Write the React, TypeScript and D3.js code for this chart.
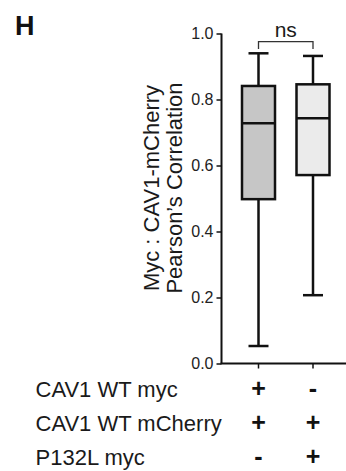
import React, { useEffect, useRef } from 'react';
import * as d3 from 'd3';

// box plot summary
const groups = ['WT', 'P132L'];
const whiskerMin = [0.053, 0.207];
const q1 = [0.498, 0.571];
const median = [0.728, 0.743];
const q3 = [0.841, 0.846];
const whiskerMax = [0.94, 0.932];
const boxFills = ['#c6c6c6', '#ebebeb'];

const yTicks = [0, 0.2, 0.4, 0.6, 0.8, 1.0];

// condition table under the plot
const rowLabels = ['CAV1 WT myc', 'CAV1 WT mCherry', 'P132L myc'];
const rowSigns = [
  ['+', '-'],
  ['+', '+'],
  ['-', '+'],
];

const FONT = '"Liberation Sans", Arial, sans-serif';

const App: React.FC = () => {
  const svgRef = useRef<SVGSVGElement | null>(null);

  useEffect(() => {
    if (!svgRef.current) return;
    const svg = d3.select(svgRef.current);
    svg.selectAll('*').remove();

    const axisX = 221.5;
    const y = d3.scaleLinear().domain([0, 1]).range([363.5, 33.5]);
    const x = d3.scalePoint<string>().domain(groups).range([258.5, 313]);
    const boxW = 33;
    const capW = 20;
    const ink = '#111';

    // panel letter
    svg.append('text')
      .attr('x', 15)
      .attr('y', 35)
      .attr('font-family', FONT)
      .attr('font-weight', 'bold')
      .attr('font-size', 27)
      .attr('fill', ink)
      .text('H');

    // y axis
    const yAxis = svg.append('g')
      .attr('transform', `translate(${axisX},0)`)
      .call(d3.axisLeft(y).tickValues(yTicks).tickFormat(d3.format('.1f')).tickSize(5).tickPadding(3));
    yAxis.select('.domain').attr('stroke', ink).attr('stroke-width', 2).attr('d', `M0,${y(1)}V${y(0)}`);
    yAxis.selectAll('.tick line').attr('stroke', ink).attr('stroke-width', 1.5);
    yAxis.selectAll('.tick text')
      .attr('font-family', FONT)
      .attr('font-size', 16)
      .attr('fill', '#222');

    // x axis line + ticks
    svg.append('line')
      .attr('x1', axisX - 1)
      .attr('x2', 346)
      .attr('y1', y(0))
      .attr('y2', y(0))
      .attr('stroke', ink)
      .attr('stroke-width', 2);
    svg.selectAll('.xtick')
      .data(groups)
      .enter()
      .append('line')
      .attr('x1', (d) => x(d)!)
      .attr('x2', (d) => x(d)!)
      .attr('y1', y(0))
      .attr('y2', y(0) + 5)
      .attr('stroke', ink)
      .attr('stroke-width', 1.5);

    // y label
    const yLab = svg.append('text')
      .attr('transform', `translate(0,188) rotate(-90)`)
      .attr('text-anchor', 'middle')
      .attr('font-family', FONT)
      .attr('font-size', 22)
      .attr('fill', '#1a1a1a');
    yLab.append('tspan').attr('x', 0).attr('y', 159).text('Myc : CAV1-mCherry');
    yLab.append('tspan').attr('x', 0).attr('y', 181.5).text('Pearson\u2019s Correlation');

    // boxes
    const g = svg.append('g')
      .attr('stroke', ink)
      .attr('stroke-width', 2.5);
    groups.forEach((grp, i) => {
      const cx = x(grp)!;
      // whiskers
      g.append('line')
        .attr('x1', cx).attr('x2', cx)
        .attr('y1', y(q3[i])).attr('y2', y(whiskerMax[i]));
      g.append('line')
        .attr('x1', cx).attr('x2', cx)
        .attr('y1', y(q1[i])).attr('y2', y(whiskerMin[i]));
      g.append('line')
        .attr('x1', cx - capW / 2).attr('x2', cx + capW / 2)
        .attr('y1', y(whiskerMax[i])).attr('y2', y(whiskerMax[i]));
      g.append('line')
        .attr('x1', cx - capW / 2).attr('x2', cx + capW / 2)
        .attr('y1', y(whiskerMin[i])).attr('y2', y(whiskerMin[i]));
      // box
      g.append('rect')
        .attr('x', cx - boxW / 2)
        .attr('y', y(q3[i]))
        .attr('width', boxW)
        .attr('height', y(q1[i]) - y(q3[i]))
        .attr('fill', boxFills[i]);
      g.append('line')
        .attr('x1', cx - boxW / 2).attr('x2', cx + boxW / 2)
        .attr('y1', y(median[i])).attr('y2', y(median[i]));
    });

    // significance bracket
    const x0 = x(groups[0])!;
    const x1 = x(groups[1])!;
    svg.append('path')
      .attr('d', `M${x0},49V41.7H${x1}V49`)
      .attr('fill', 'none')
      .attr('stroke', '#333')
      .attr('stroke-width', 1.3);
    svg.append('text')
      .attr('x', (x0 + x1) / 2)
      .attr('y', 36.5)
      .attr('text-anchor', 'middle')
      .attr('font-family', FONT)
      .attr('font-size', 21)
      .attr('fill', '#1a1a1a')
      .text('ns');

    // condition table
    const rowY = d3.scalePoint<string>().domain(rowLabels).range([397, 465]);
    rowLabels.forEach((lab, r) => {
      svg.append('text')
        .attr('x', 35.5)
        .attr('y', rowY(lab)!)
        .attr('font-family', FONT)
        .attr('font-size', 22)
        .attr('fill', '#1a1a1a')
        .text(lab);
      rowSigns[r].forEach((s, i) => {
        svg.append('text')
          .attr('x', x(groups[i])!)
          .attr('y', rowY(lab)!)
          .attr('text-anchor', 'middle')
          .attr('font-family', FONT)
          .attr('font-weight', 'bold')
          .attr('font-size', 25)
          .attr('fill', ink)
          .text(s);
      });
    });
  }, []);

  return (
    <svg
      ref={svgRef}
      width={346}
      height={471}
      style={{ position: 'absolute', left: 0, top: 0, background: '#fff' }}
    />
  );
};

export default App;
